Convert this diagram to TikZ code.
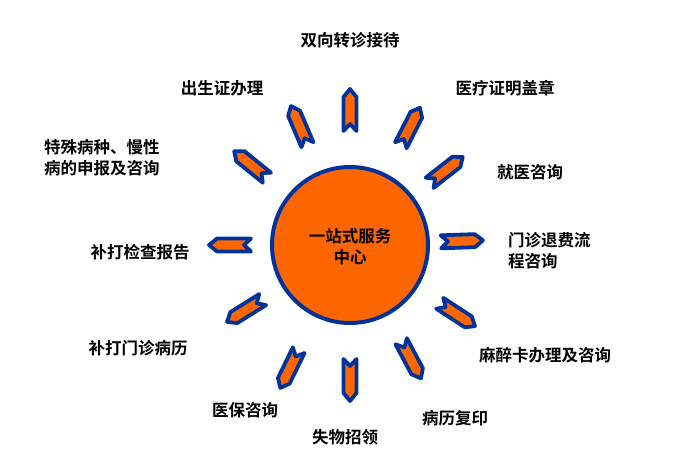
\documentclass[tikz,border=0pt]{standalone}
\usepackage{fontspec}
\setmainfont{Noto Sans CJK SC}[BoldFont={Noto Sans CJK SC Bold}]
\begin{document}
\begin{tikzpicture}[x=1pt,y=-1pt,
  lbl/.style={font=\bfseries\fontsize{16.5}{21}\selectfont,inner sep=0pt},
  ray/.style={fill={rgb,255:red,255;green,102;blue,0},draw={rgb,255:red,0;green,51;blue,153},line width=3.8pt,line join=round}]
\useasboundingbox (0,0) rectangle (690,475);
\node[circle,minimum size=156pt,ray,line width=4pt] (c) at (350,245) {};
\node[lbl,align=center] (ct) at (350,247) {一站式服务\\中心};
\foreach \a/\r in {90/135,116/138,62/130,33/128,-2/112,-38/122,-63/133,-90/135,-113/130,-141/128,180/120,148/124}{
  \begin{scope}[shift={(350,245)},rotate=-\a]
   \draw[ray] (\r-21,-6.5) -- (\r+13,-6.5) -- (\r+21,0) -- (\r+13,6.5) -- (\r-21,6.5) -- (\r-14,0) -- cycle;
  \end{scope}
}
\node[lbl] (t1) at (350,40) {双向转诊接待};
\node[lbl] (t2) at (222,88) {出生证办理};
\node[lbl] (t3) at (505,88) {医疗证明盖章};
\node[lbl,align=left,anchor=west] (t4) at (44,158) {特殊病种、慢性\\病的申报及咨询};
\node[lbl] (t5) at (530,172) {就医咨询};
\node[lbl,align=left,anchor=west] (t6) at (508,251) {门诊退费流\\程咨询};
\node[lbl] (t7) at (140,252) {补打检查报告};
\node[lbl] (t8) at (138,348) {补打门诊病历};
\node[lbl] (t9) at (545,355) {麻醉卡办理及咨询};
\node[lbl] (t10) at (245,410) {医保咨询};
\node[lbl] (t11) at (455,418) {病历复印};
\node[lbl] (t12) at (345,437) {失物招领};
\end{tikzpicture}
\end{document}
